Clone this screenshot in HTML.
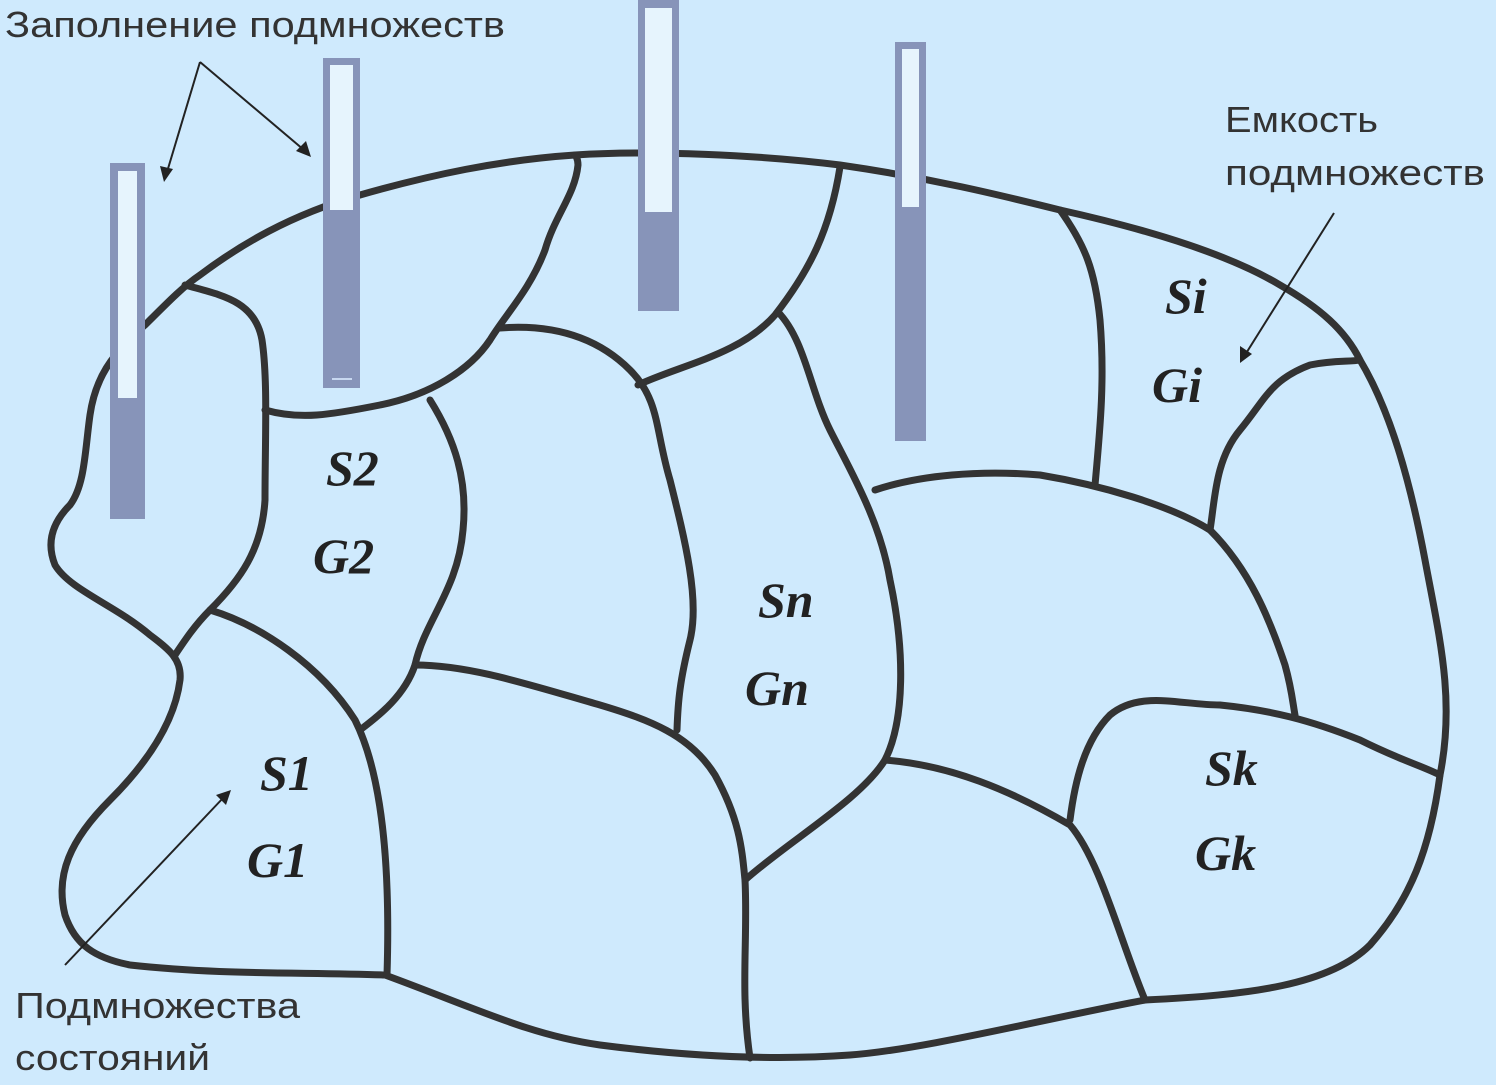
<!DOCTYPE html>
<html><head><meta charset="utf-8"><style>
html,body{margin:0;padding:0;background:#cfeafd;}
svg{display:block}
.t{font-family:"Liberation Sans","DejaVu Sans",sans-serif;font-size:36px;fill:#333;}
.l{font-family:"Liberation Serif",serif;font-style:italic;font-weight:bold;font-size:50px;fill:#222;}
</style></head><body>
<svg width="1496" height="1085" viewBox="0 0 1496 1085" xmlns="http://www.w3.org/2000/svg">
<rect width="1496" height="1085" fill="#cfeafd"/>
<g fill="none" stroke="#333" stroke-width="7" stroke-linejoin="round" stroke-linecap="round">
<path d="M145,325 C170,300 185,285 200,275 C240,245 290,215 360,195 C430,175 500,160 575,155 C650,150 760,155 840,165 C930,178 1000,195 1060,210 C1150,230 1230,255 1280,285 C1320,308 1345,330 1360,360 C1390,410 1410,480 1425,560 C1440,640 1455,700 1440,775 C1430,850 1410,900 1370,945 C1330,985 1250,995 1145,1000 C1040,1020 920,1050 850,1055 C780,1060 700,1058 600,1045 C530,1035 480,1010 385,975 C300,972 220,975 130,965 C95,958 75,945 65,915 C55,875 70,840 110,800 C150,760 175,720 180,680 C182,660 170,650 150,635 C115,605 70,590 55,565 C45,540 55,520 70,505 C85,485 85,450 90,415 C95,380 110,355 145,325 Z"/>
<path d="M185,285 C220,295 255,300 262,340 C268,380 265,440 265,500 C262,550 240,580 210,610 C195,625 185,640 175,655"/>
<path d="M210,610 C260,625 320,665 355,720 C385,780 390,880 387,975"/>
<path d="M265,410 C300,420 330,415 380,405 C430,395 470,370 490,340 C505,315 530,290 545,250 C555,215 575,195 578,165 C578,158 575,155 575,155"/>
<path d="M430,400 C455,440 468,480 463,530 C458,590 425,620 415,665 C405,695 380,715 360,730"/>
<path d="M500,328 C540,325 590,330 630,370 C660,400 655,430 670,480 C685,540 700,600 690,640 C680,680 678,700 677,730"/>
<path d="M415,665 C470,665 530,685 600,705 C650,720 690,735 715,775 C740,820 742,850 745,880 C748,940 740,990 750,1058"/>
<path d="M638,385 C680,365 740,355 775,315 C810,270 830,230 840,167"/>
<path d="M778,312 C805,340 810,390 830,430 C850,470 880,520 890,580 C905,650 905,720 885,760 C860,800 790,840 745,880"/>
<path d="M885,760 C950,765 1010,790 1070,825 C1100,860 1120,940 1145,1000"/>
<path d="M875,490 C920,475 980,470 1040,475 C1100,485 1170,505 1210,530 C1250,570 1270,620 1285,665 C1292,690 1293,705 1295,715"/>
<path d="M1060,210 C1085,245 1095,270 1100,320 C1105,380 1100,430 1095,485"/>
<path d="M1210,530 C1215,500 1215,460 1240,430 C1265,400 1270,380 1310,365 C1335,360 1350,362 1360,360"/>
<path d="M1070,820 C1075,780 1085,740 1110,715 C1140,690 1180,705 1220,705 C1270,710 1310,720 1360,740 C1400,760 1420,765 1440,775"/>
</g>
<g>
<rect x="110" y="163" width="35" height="356" fill="#8794b9"/>
<rect x="118" y="171" width="19" height="227" fill="#e6f4fd"/>
<rect x="323" y="58" width="37" height="330" fill="#8794b9"/>
<rect x="330" y="65" width="23" height="145" fill="#e6f4fd"/>
<rect x="332" y="378" width="20" height="2" fill="#c8d8f0"/>
<rect x="638" y="0" width="41" height="311" fill="#8794b9"/>
<rect x="645" y="8" width="27" height="204" fill="#e6f4fd"/>
<rect x="895" y="42" width="31" height="399" fill="#8794b9"/>
<rect x="902" y="49" width="17" height="158" fill="#e6f4fd"/>
</g>
<g stroke="#222" stroke-width="2" fill="none">
<line x1="200" y1="62" x2="167" y2="172"/>
<line x1="200" y1="62" x2="304" y2="150"/>
<line x1="1334" y1="213" x2="1245" y2="355"/>
<line x1="65" y1="965" x2="224" y2="797"/>
</g>
<g fill="#222">
<polygon points="164,182 160,166 173,169"/>
<polygon points="311,157 296,151 306,141"/>
<polygon points="1240,363 1240,346 1252,354"/>
<polygon points="231,790 226,805 216,795"/>
</g>
<text class="t" x="5" y="37" textLength="500" lengthAdjust="spacingAndGlyphs">Заполнение подмножеств</text>
<text class="t" x="1225" y="132" textLength="153" lengthAdjust="spacingAndGlyphs">Емкость</text>
<text class="t" x="1225" y="185" textLength="260" lengthAdjust="spacingAndGlyphs">подмножеств</text>
<text class="t" x="15" y="1018" textLength="285" lengthAdjust="spacingAndGlyphs">Подмножества</text>
<text class="t" x="15" y="1070" textLength="195" lengthAdjust="spacingAndGlyphs">состояний</text>
<text class="l" x="326" y="485">S2</text>
<text class="l" x="313" y="573">G2</text>
<text class="l" x="260" y="790">S1</text>
<text class="l" x="247" y="877">G1</text>
<text class="l" x="758" y="617">Sn</text>
<text class="l" x="745" y="705">Gn</text>
<text class="l" x="1165" y="313">Si</text>
<text class="l" x="1152" y="402">Gi</text>
<text class="l" x="1205" y="785">Sk</text>
<text class="l" x="1195" y="870">Gk</text>
</svg>
</body></html>
